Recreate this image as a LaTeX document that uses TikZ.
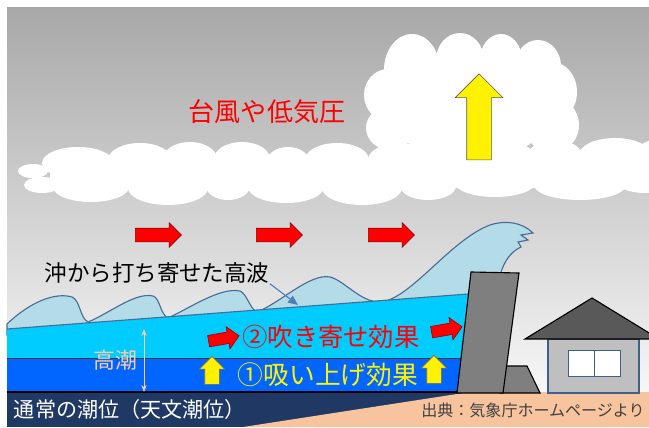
\documentclass[tikz,border=0pt]{standalone}
\usepackage{fontspec}
\setmainfont{Noto Sans CJK JP}
\usetikzlibrary{arrows.meta,positioning,shapes.arrows}

\definecolor{skyTop}{HTML}{A8A8A8}
\definecolor{skyLow}{HTML}{F7F7F7}
\definecolor{waveFill}{HTML}{B4DCE8}
\definecolor{waveLine}{HTML}{4A6C94}
\definecolor{surgeCyan}{HTML}{00CCFF}
\definecolor{suckBlue}{HTML}{0066FF}
\definecolor{tideNavy}{HTML}{1F3864}
\definecolor{groundTan}{HTML}{F8C49E}
\definecolor{wallGray}{HTML}{7F7F7F}
\definecolor{roofGray}{HTML}{595959}
\definecolor{houseGray}{HTML}{BFBFBF}
\definecolor{houseLine}{HTML}{3D5F8F}
\definecolor{tideLabel}{HTML}{F8CBAD}
\definecolor{pointerBlue}{HTML}{4F7DB5}

% one unit = one pixel of the drawing
\newcommand{\pxu}{0.025cm}
\newcommand{\jpsize}[1]{\fontsize{#1}{#1}\selectfont}

\tikzset{
    windarrow/.style={single arrow, draw=red!55!black, fill=red, thin, inner xsep=0pt, inner ysep=6.5*\pxu,
        single arrow head extend=5.5*\pxu, minimum height=46*\pxu},
    pusharrow/.style={single arrow, draw=red!55!black, fill=red, thin, rotate=10, inner xsep=0pt, inner ysep=5.5*\pxu,
        single arrow head extend=5.5*\pxu, minimum height=31*\pxu},
    liftarrow/.style={single arrow, draw=black!60, fill=yellow, thin, rotate=90, inner xsep=0pt, inner ysep=7*\pxu,
        single arrow head extend=5.5*\pxu, minimum height=28*\pxu},
    riseArrow/.style={single arrow, draw=black!65, fill=yellow, thin, rotate=90, inner xsep=0pt, inner ysep=12*\pxu,
        single arrow head extend=11.5*\pxu, minimum height=86*\pxu},
    label/.style={inner sep=0pt, anchor=center},
    pointer/.style={-{Triangle[length=7pt,width=6pt]}, pointerBlue, thick}
}

\begin{document}
\begin{tikzpicture}[x=\pxu, y=-\pxu]
    \useasboundingbox (0,0) rectangle (649,427);
    \clip (0,0) rectangle (649,427);

    % sky
    \shade[top color=skyTop, bottom color=skyLow] (7,8) rectangle (649,392);

    % clouds, one puff at a time
    \foreach \cx/\cy/\rx/\ry in {
        412/70/28/36, 460/60/24/27, 501/60/21/26, 538/66/23/26,
        552/92/25/30, 552/125/27/28, 388/95/24/26, 390/128/24/22, 470/105/85/55,
        78/163/36/16, 140/160/32/17, 190/159/27/17, 242/159/28/17, 288/163/22/16,
        337/160/32/17, 400/160/32/17, 455/158/30/17, 505/158/30/17,
        555/157/28/17, 615/155/36/17, 665/155/30/17,
        91/187/38/15, 168/188/40/17, 228/186/22/14, 286/187/38/16, 362/188/40/17,
        428/186/28/14, 495/183/40/14, 580/185/46/15, 645/180/30/13,
        33/171/15/7, 42/185/18/8}
        \fill[white] (\cx,\cy) ellipse [x radius=\rx, y radius=\ry];
    \fill[white] (50,160) rectangle (649,188);

    % waves rolling in from offshore
    \filldraw[fill=waveFill, draw=waveLine, thick]
        (7,324) .. controls (30,302) and (55,292) .. (72,297)
        .. controls (80,300) and (80,318) .. (88,322)
        .. controls (110,313) and (135,292) .. (153,296)
        .. controls (160,298) and (160,314) .. (168,318)
        .. controls (190,308) and (220,287) .. (240,291)
        .. controls (247,294) and (250,309) .. (257,312)
        .. controls (280,303) and (310,273) .. (330,277)
        .. controls (345,281) and (360,302) .. (380,302)
        .. controls (410,300) and (450,240) .. (490,225)
        .. controls (505,220) and (522,222) .. (533,233)
        -- (521,235) -- (528,240) -- (518,242) -- (521,247)
        .. controls (510,252) and (504,262) .. (500,275)
        -- (500,300) -- (7,335) -- cycle;

    % surge layers
    \fill[surgeCyan] (7,329) -- (468,294) -- (468,358) -- (7,358) -- cycle;
    \draw[waveLine, thick] (7,329) -- (468,294);
    \fill[suckBlue] (7,358) rectangle (468,392);
    \draw[black!80, thin] (7,358) -- (468,358);
    \fill[tideNavy] (7,392) rectangle (649,427);
    \draw[black, thick] (7,392) -- (470,392);
    \fill[groundTan] (243,427) -- (470,392) -- (649,392) -- (649,427) -- cycle;

    % seawall
    \filldraw[fill=wallGray, draw=black, thick] (505,366) -- (527,366) -- (540,393) -- (500,393) -- cycle;
    \filldraw[fill=wallGray, draw=black, thick] (471,272) -- (519,273) -- (503,393) -- (457,393) -- cycle;

    % house
    \filldraw[fill=houseGray, draw=houseLine, thick] (548,339) rectangle (639,393);
    \filldraw[fill=white, draw=houseLine] (568,350) rectangle (620,376);
    \draw[houseLine] (594,350) -- (594,376);
    \filldraw[fill=roofGray, draw=black, thick] (525,339) -- (592,298) -- (659,339) -- cycle;

    % block arrows
    \node[riseArrow] (rise) at (479,123) {};
    \node[windarrow] (wind1) at (155,235) {};
    \node[windarrow] (wind2) at (276,235) {};
    \node[windarrow] (wind3) at (388,235) {};
    \node[pusharrow] (push1) at (221,339) {};
    \node[pusharrow] (push2) at (444,330) {};
    \node[liftarrow] (lift1) at (212,374) {};
    \node[liftarrow] (lift2) at (434,373) {};

    % labels
    \node[label, text=red, font=\jpsize{18.5pt}] (storm) at (267,112) {台風や低気圧};
    \node[label, font=\jpsize{16pt}] (highwave) at (157,273) {沖から打ち寄せた高波};
    \coordinate (wavepoint) at (298,305);
    \draw[pointer] (highwave.south east) -- (wavepoint);
    \node[label, text=red, font=\jpsize{18pt}] (blow) at (331,337) {②吹き寄せ効果};
    \node[label, text=yellow, font=\jpsize{18.3pt}] (suck) at (328,375) {①吸い上げ効果};
    \node[label, text=tideLabel, font=\jpsize{15.6pt}] (surge) at (115,360) {高潮};
    \coordinate (surgetop) at (144,329);
    \coordinate (surgebot) at (144,392);
    \draw[{Stealth[length=5pt]}-{Stealth[length=5pt]}, tideLabel] (surgetop) -- (surgebot);
    \node[label, text=white, font=\jpsize{15pt}] (normal) at (130,409) {通常の潮位（天文潮位）};
    \node[label, text=black!75, font=\jpsize{11.4pt}] (source) at (533,410) {出典：気象庁ホームページより};
\end{tikzpicture}
\end{document}
